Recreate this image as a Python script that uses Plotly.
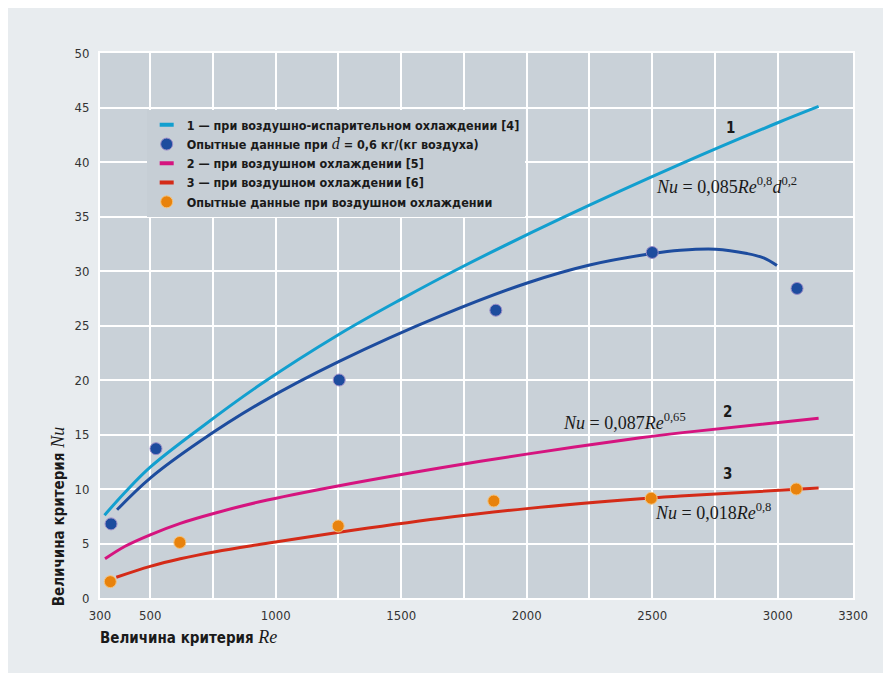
import plotly.graph_objects as go

# Curve 1: air-evaporative cooling, Nu = 0.085 Re^0.8 d^0.2
re_1 = [318, 400, 500, 700, 940, 1253, 1499, 1736, 2135, 2612, 3000, 3163]
nu_1 = [7.6, 9.7, 12.0, 15.6, 19.6, 24.2, 27.4, 30.3, 34.8, 39.8, 43.6, 45.1]

# Fitted curve through the measured points at d = 0.6
re_fit = [368, 500, 700, 940, 1253, 1659, 2002, 2251, 2500, 2612, 2752, 2878, 2944, 2997]
nu_fit = [8.1, 11.0, 14.4, 17.9, 21.7, 25.9, 28.9, 30.55, 31.6, 31.9, 32.0, 31.6, 31.2, 30.5]

# Curve 2: air cooling, Nu = 0.087 Re^0.65
re_2 = [320, 400, 500, 620, 760, 940, 1253, 1659, 2000, 2453, 2612, 3163]
nu_2 = [3.6, 4.75, 5.8, 6.85, 7.8, 8.85, 10.3, 11.95, 13.2, 14.7, 15.15, 16.5]

# Curve 3: air cooling, Nu = 0.018 Re^0.8
re_3 = [365, 500, 620, 760, 940, 1253, 1659, 2000, 2453, 2612, 3163]
nu_3 = [1.9, 2.9, 3.6, 4.25, 4.93, 6.03, 7.31, 8.2, 9.1, 9.35, 10.1]

# Experimental points
re_exp_d = [344, 523, 1253, 1877, 2500, 3077]
nu_exp_d = [6.8, 13.7, 20.0, 26.4, 31.7, 28.4]
re_exp_air = [341, 618, 1249, 1869, 2496, 3074]
nu_exp_air = [1.5, 5.1, 6.6, 8.9, 9.15, 10.0]

x_tick_vals = [300, 500, 1000, 1500, 2000, 2500, 3000, 3300]
x_grid_vals = [500, 750, 1000, 1250, 1500, 1750, 2000, 2250, 2500, 2750, 3000]

C_CYAN = "#129fcf"
C_BLUE = "#1d4c9e"
C_MAGENTA = "#d5147f"
C_RED = "#d42b18"
C_ORANGE = "#e8820c"

SANS_B = "DejaVu Sans Condensed, Roboto, sans-serif"
NARROW = "Liberation Sans Narrow, DejaVu Sans Condensed, sans-serif"
SERIF = "Liberation Serif, DejaVu Serif, serif"


def serif(s, size):
    return (f'<span style="font-family:{SERIF};font-weight:normal;'
            f'font-size:{size}px">{s}</span>')


def legend_dash(name, color):
    return go.Scatter(
        x=[None], y=[None], mode="markers", name=name, hoverinfo="skip",
        marker=dict(symbol="line-ew", size=10, color=color,
                    line=dict(width=4, color=color)),
    )


fig = go.Figure()

# Plotted curves (legend entries drawn separately as short dashes)
for xs, ys, col in [(re_1, nu_1, C_CYAN), (re_fit, nu_fit, C_BLUE),
                    (re_2, nu_2, C_MAGENTA), (re_3, nu_3, C_RED)]:
    fig.add_trace(go.Scatter(x=xs, y=ys, mode="lines", showlegend=False, hoverinfo="skip",
                             line=dict(color=col, width=3, shape="spline", smoothing=1.0)))

fig.add_trace(legend_dash("1 — при воздушно-испарительном охлаждении [4]", C_CYAN))
fig.add_trace(go.Scatter(
    x=re_exp_d, y=nu_exp_d, mode="markers",
    name="Опытные данные при " + serif("<i>d</i>", 16) + " = 0,6 кг/(кг воздуха)",
    marker=dict(size=12, color=C_BLUE, line=dict(width=1, color="#9a8cc8")),
))
fig.add_trace(legend_dash("2 — при воздушном охлаждении [5]", C_MAGENTA))
fig.add_trace(legend_dash("3 — при воздушном охлаждении [6]", C_RED))
fig.add_trace(go.Scatter(
    x=re_exp_air, y=nu_exp_air, mode="markers",
    name="Опытные данные при воздушном охлаждении",
    marker=dict(size=12, color=C_ORANGE, line=dict(width=1, color="#f6c27a")),
))

annotations = [
    dict(x=2811, y=43.1, text="<b>1</b>", font=dict(family=SANS_B, size=15, color="#1a1a1a")),
    dict(x=2799, y=17.1, text="<b>2</b>", font=dict(family=SANS_B, size=15, color="#1a1a1a")),
    dict(x=2799, y=11.4, text="<b>3</b>", font=dict(family=SANS_B, size=15, color="#1a1a1a")),
    dict(x=2508, y=37.8, xanchor="left",
         text="<i>Nu</i> = 0,085<i>Re</i><sup>0,8</sup><i>d</i><sup>0,2</sup>",
         font=dict(family=SERIF, size=18, color="#1a1a1a")),
    dict(x=2137, y=16.2, xanchor="left",
         text="<i>Nu</i> = 0,087<i>Re</i><sup>0,65</sup>",
         font=dict(family=SERIF, size=18, color="#1a1a1a")),
    dict(x=2505, y=7.9, xanchor="left",
         text="<i>Nu</i> = 0,018<i>Re</i><sup>0,8</sup>",
         font=dict(family=SERIF, size=18, color="#1a1a1a")),
]
for a in annotations:
    a.update(xref="x", yref="y", showarrow=False)

# Axis titles
annotations.append(dict(
    xref="paper", yref="paper", x=-0.003, y=-0.0716, xanchor="left", yanchor="middle",
    showarrow=False, text="<b>Величина критерия </b>" + serif("<i>Re</i>", 18),
    font=dict(family=SANS_B, size=15, color="#1a1a1a")))
annotations.append(dict(
    xref="paper", yref="paper", x=-0.0558, y=0.15, xanchor="center", yanchor="middle",
    textangle=-90, showarrow=False, text="<b>Величина критерия </b>" + serif("<i>Nu</i>", 18),
    font=dict(family=SANS_B, size=15, color="#1a1a1a")))

fig.update_layout(
    width=891, height=681,
    margin=dict(l=100, r=38, t=53, b=83),
    paper_bgcolor="#e8ecef",
    plot_bgcolor="#c9d1d8",
    annotations=annotations,
    showlegend=True,
    legend=dict(
        x=0.062, y=0.895, xanchor="left", yanchor="top",
        bgcolor="#c6ced5", borderwidth=0,
        font=dict(family=SANS_B, size=12.5, color="#1a1a1a", weight="bold"),
        itemwidth=30, tracegroupgap=0,
    ),
    shapes=[dict(
        type="rect", xref="paper", yref="paper", layer="above",
        x0=-100 / 753, x1=(891 - 100) / 753, y0=-83 / 545, y1=(681 - 83) / 545,
        line=dict(color="white", width=16), fillcolor="rgba(0,0,0,0)",
    )],
)

fig.update_xaxes(
    range=[300, 3300], tickvals=x_tick_vals, ticktext=[str(v) for v in x_tick_vals],
    showgrid=False, zeroline=False,
    minor=dict(tickvals=x_grid_vals, showgrid=True, gridcolor="white", gridwidth=2, ticks=""),
    showline=True, linecolor="white", linewidth=2, mirror=True,
    ticks="outside", ticklen=4, tickcolor="rgba(0,0,0,0)",
    tickfont=dict(family=NARROW, size=13, color="#333333"),
)
fig.update_yaxes(
    range=[0, 50], dtick=5, showgrid=True, gridcolor="white", gridwidth=2, zeroline=False,
    showline=True, linecolor="white", linewidth=2, mirror=True,
    ticks="outside", ticklen=6, tickcolor="rgba(0,0,0,0)",
    tickfont=dict(family=NARROW, size=13, color="#333333"),
)

fig.write_html("out.html")
